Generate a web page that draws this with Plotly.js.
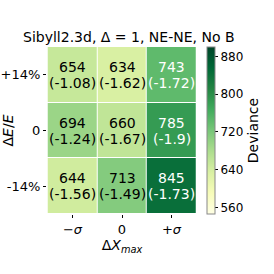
<!DOCTYPE html>
<html><head><meta charset="utf-8">
<script src="https://cdn.plot.ly/plotly-3.0.1.min.js"></script>
<style>body{margin:0;background:#fff}#c{width:274px;height:274px}</style>
</head><body><div id="c"></div>
<script>
const xLabels = ["−<i>σ</i>", "0", "+<i>σ</i>"];
const yLabels = ["-14%", "0", "+14%"];           // bottom to top
const deviance = [
  [644, 713, 845],   // -14%
  [694, 660, 785],   // 0
  [654, 634, 743]    // +14%
];
const pulls = [
  ["-1.56", "-1.49", "-1.73"],
  ["-1.24", "-1.67", "-1.9"],
  ["-1.08", "-1.62", "-1.72"]
];
const zMin = 546, zMax = 900;
const whiteAbove = 730;

const ylgn = [[0,"#ffffe5"],[0.125,"#f7fcb9"],[0.25,"#d9f0a3"],[0.375,"#addd8e"],[0.5,"#78c679"],[0.625,"#41ab5d"],[0.75,"#238443"],[0.875,"#006837"],[1,"#004529"]];

const font = "DejaVu Sans, sans-serif";
const annotations = [];
for (let i = 0; i < yLabels.length; i++) {
  for (let j = 0; j < xLabels.length; j++) {
    const col = deviance[i][j] > whiteAbove ? "#ffffff" : "#000000";
    // category axes: position by category index
    annotations.push({x: j, y: i, xref: "x", yref: "y", text: String(deviance[i][j]),
      showarrow: false, yshift: 8, font: {family: font, size: 14, color: col}});
    annotations.push({x: j, y: i, xref: "x", yref: "y", text: "(" + pulls[i][j] + ")",
      showarrow: false, yshift: -8, font: {family: font, size: 14, color: col}});
  }
}

const trace = {
  type: "heatmap", x: xLabels, y: yLabels, z: deviance,
  colorscale: ylgn, zmin: zMin, zmax: zMax, xgap: 1, ygap: 1, hoverinfo: "none",
  colorbar: {
    x: 1.065, xanchor: "left", xpad: 0, y: 0, yanchor: "bottom", len: 1, ypad: 0,
    thickness: 8, outlinewidth: 1, outlinecolor: "#888",
    tickvals: [560, 640, 720, 800, 880], ticks: "outside", ticklen: 3, tickcolor: "#000",
    tickfont: {family: font, size: 12, color: "#000"},
    title: {text: "Deviance", side: "right", font: {family: font, size: 14, color: "#000"}}
  }
};

const layout = {
  width: 274, height: 274, paper_bgcolor: "#fff", plot_bgcolor: "#fff",
  margin: {l: 47, r: 59, t: 47, b: 60},
  title: {text: "Sibyll2.3d, Δ = 1, NE-NE, No B", x: 0.47, xanchor: "center", y: 0.865, yanchor: "middle",
    font: {family: font, size: 14, color: "#000"}},
  xaxis: {type: "category", showgrid: false, zeroline: false, ticks: "outside", ticklen: 3, tickcolor: "#000",
    tickfont: {family: font, size: 13, color: "#000"},
    title: {text: "Δ<i>X</i><sub><i>max</i></sub>", font: {family: font, size: 14, color: "#000"}, standoff: 4}},
  yaxis: {type: "category", showgrid: false, zeroline: false, ticks: "outside", ticklen: 3, tickcolor: "#000",
    tickfont: {family: font, size: 13, color: "#000"},
    title: {text: "Δ<i>E</i>/<i>E</i>", font: {family: font, size: 14, color: "#000"}, standoff: 4}},
  annotations: annotations
};
Plotly.newPlot("c", [trace], layout, {staticPlot: true});
</script></body></html>
